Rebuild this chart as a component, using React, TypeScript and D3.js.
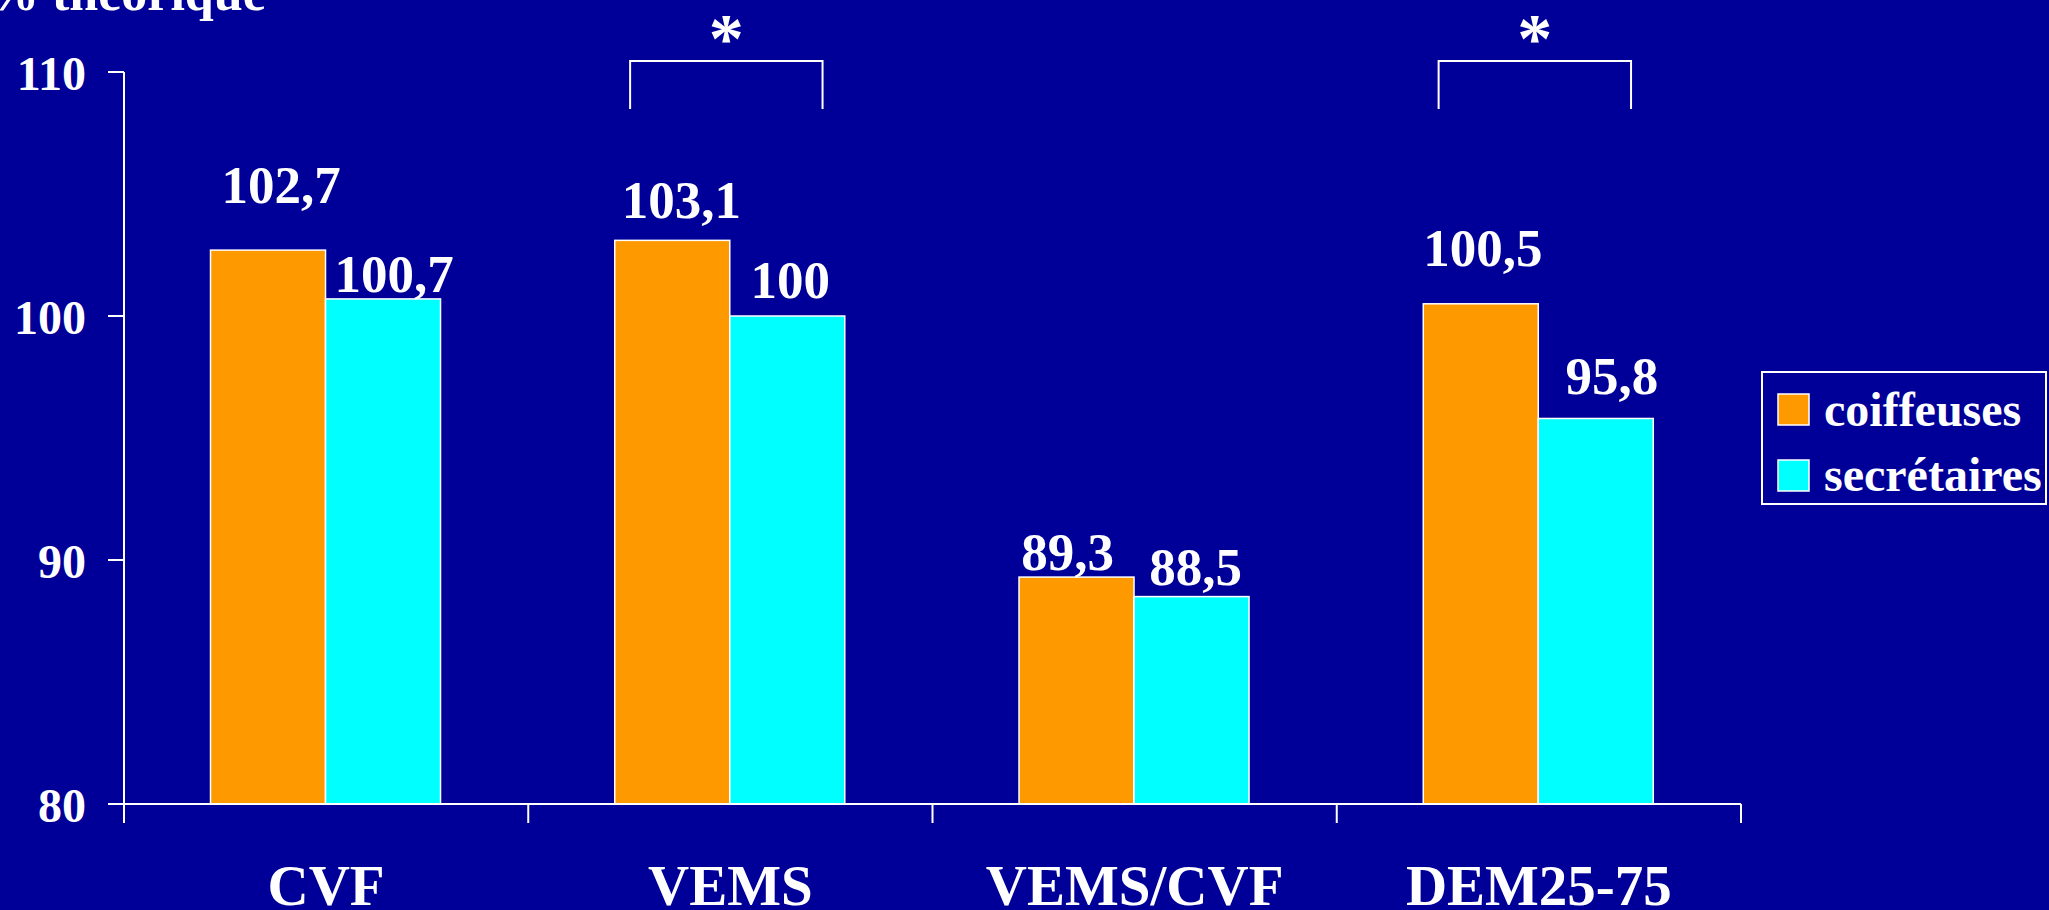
import React from "react";
import * as d3 from "d3";

const categories = ["CVF", "VEMS", "VEMS/CVF", "DEM25-75"];
const seriesNames = ["coiffeuses", "secrétaires"];
const coiffeuses = [102.7, 103.1, 89.3, 100.5];
const secretaires = [100.7, 100, 88.5, 95.8];
const valueLabels = [
  ["102,7", "103,1", "89,3", "100,5"],
  ["100,7", "100", "88,5", "95,8"],
];
const yTicks = [80, 90, 100, 110];
const significant = [false, true, false, true];
const yTitle = "% théorique";

// label nudges (dx, dy from bar top) — layout only
const labelNudges = [
  [[13, -47], [9, -22], [-9, -7], [2, -38]],
  [[11, -7], [3, -18], [4, -12], [16, -24]],
];

const W = 2049;
const H = 910;
const BG = "#000099";
const COLORS = ["#FF9900", "#00FFFF"];
const FONT = "'Liberation Serif', 'Times New Roman', serif";

export default function App() {
  const x0 = d3.scaleBand<string>().domain(categories).range([124, 1741]).padding(0);
  const bw = x0.bandwidth();
  const x1 = d3.scaleBand<string>().domain(seriesNames).range([bw * 0.214, bw * 0.783]).padding(0);
  const y = d3.scaleLinear().domain([80, 110]).range([804, 72]);
  const values = [coiffeuses, secretaires];

  const axisX = x0.range()[0];
  const baseY = y(80);

  return (
    <svg
      width={W}
      height={H}
      style={{ position: "absolute", left: 0, top: 0, background: BG, display: "block" }}
      fontFamily={FONT}
      fontWeight="bold"
    >
      <rect x={0} y={0} width={W} height={H} fill={BG} />

      {/* y title */}
      <text x={-13} y={10} fill="#fff" fontSize={52}>
        {yTitle}
      </text>

      {/* bars */}
      {seriesNames.map((s, si) =>
        categories.map((c, ci) => {
          const v = values[si][ci];
          const bx = (x0(c) as number) + (x1(s) as number);
          return (
            <rect
              key={s + c}
              x={bx}
              y={y(v)}
              width={x1.bandwidth()}
              height={baseY - y(v)}
              fill={COLORS[si]}
              stroke="#fff"
              strokeWidth={1.5}
            />
          );
        })
      )}

      {/* value labels */}
      {seriesNames.map((s, si) =>
        categories.map((c, ci) => {
          const v = values[si][ci];
          const cx = (x0(c) as number) + (x1(s) as number) + x1.bandwidth() / 2;
          const [dx, dy] = labelNudges[si][ci];
          return (
            <text
              key={"l" + s + c}
              x={cx + dx}
              y={y(v) + dy}
              fill="#fff"
              fontSize={53}
              textAnchor="middle"
            >
              {valueLabels[si][ci]}
            </text>
          );
        })
      )}

      {/* y axis */}
      <line x1={axisX} x2={axisX} y1={y(110)} y2={baseY + 19} stroke="#fff" strokeWidth={2} />
      {yTicks.map((t) => (
        <g key={t}>
          <line x1={axisX - 16} x2={axisX} y1={y(t)} y2={y(t)} stroke="#fff" strokeWidth={2} />
          <text x={86} y={y(t) + 18} fill="#fff" fontSize={48} textAnchor="end">
            {t}
          </text>
        </g>
      ))}

      {/* x axis */}
      <line x1={axisX - 16} x2={x0.range()[1]} y1={baseY} y2={baseY} stroke="#fff" strokeWidth={2} />
      {[...categories.map((c) => x0(c) as number), x0.range()[1]].map((tx, i) => (
        <line key={"xt" + i} x1={tx} x2={tx} y1={baseY} y2={baseY + 19} stroke="#fff" strokeWidth={2} />
      ))}
      {categories.map((c) => (
        <text
          key={"c" + c}
          x={(x0(c) as number) + bw / 2}
          y={905}
          fill="#fff"
          fontSize={57}
          textAnchor="middle"
        >
          {c}
        </text>
      ))}

      {/* significance brackets */}
      {categories.map((c, ci) => {
        if (!significant[ci]) return null;
        const bx0 = (x0(c) as number) + bw * 0.252;
        const bx1 = (x0(c) as number) + bw * 0.728;
        const top = 61;
        const bot = 109;
        return (
          <g key={"sig" + c}>
            <path
              d={`M${bx0},${bot} V${top} H${bx1} V${bot}`}
              fill="none"
              stroke="#fff"
              strokeWidth={2}
            />
            <text x={(bx0 + bx1) / 2} y={62} fill="#fff" fontSize={70} textAnchor="middle">
              *
            </text>
          </g>
        );
      })}

      {/* legend */}
      <rect x={1762} y={372} width={284} height={132} fill="none" stroke="#fff" strokeWidth={2} />
      {seriesNames.map((s, si) => (
        <g key={"lg" + s}>
          <rect
            x={1778}
            y={394 + si * 66}
            width={31}
            height={31}
            fill={COLORS[si]}
            stroke="#fff"
            strokeWidth={1.5}
          />
          <text x={1824} y={426 + si * 65} fill="#fff" fontSize={48}>
            {s}
          </text>
        </g>
      ))}
    </svg>
  );
}
